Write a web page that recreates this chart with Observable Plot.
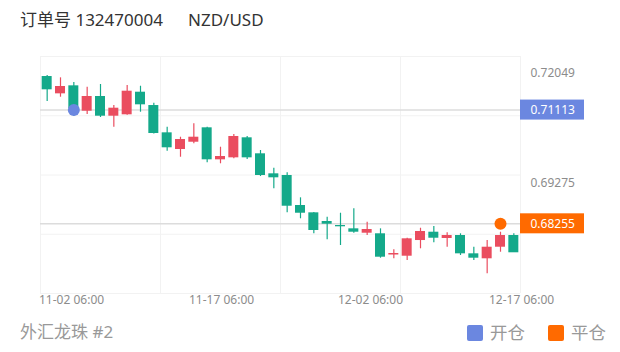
<!DOCTYPE html>
<html>
<head>
<meta charset="utf-8">
<script src="https://cdn.jsdelivr.net/npm/d3@7"></script>
<script src="https://cdn.jsdelivr.net/npm/@observablehq/plot@0.6"></script>
<style>
  html, body { margin: 0; padding: 0; background: #fff; }
  body { width: 620px; height: 352px; position: relative; overflow: hidden; font-family: "Noto Sans", "Noto Sans CJK SC", sans-serif; }
  .abs { position: absolute; white-space: nowrap; line-height: 1.2; }
  #chart { position: absolute; left: 0; top: 40px; }
  .sq { position: absolute; width: 16px; height: 16px; border-radius: 2px; }
</style>
</head>
<body>
<div class="abs" style="left:20px; top:10px; font-size:17px; color:#333;">订单号 132470004</div>
<div class="abs" style="left:188px; top:10px; font-size:17px; color:#333;">NZD/USD</div>
<div id="chart"></div>
<div class="abs" style="left:20px; top:322px; font-size:17px; color:#999;">外汇龙珠 #2</div>
<div class="sq" style="left:467px; top:325px; background:#6b87e0;"></div>
<div class="abs" style="left:490px; top:322px; font-size:17.5px; color:#999;">开仓</div>
<div class="sq" style="left:548px; top:325px; background:#ff6a00;"></div>
<div class="abs" style="left:571px; top:322px; font-size:17.5px; color:#999;">平仓</div>
<script>
const idx = d3.range(1, 37);
const open = [0.71956,0.71521,0.71722,0.71084,0.71454,0.70959,0.70994,0.71562,0.71227,0.70541,0.70122,0.70305,0.70667,0.69863,0.69913,0.70416,0.70014,0.69511,0.69469,0.68715,0.68531,0.68313,0.68212,0.68129,0.68019,0.68004,0.67471,0.67441,0.67835,0.68044,0.67886,0.67961,0.67501,0.67376,0.67667,0.67961];
const close = [0.71622,0.71705,0.71152,0.71454,0.70959,0.71160,0.71587,0.71245,0.70524,0.70165,0.70373,0.70431,0.69863,0.69946,0.70449,0.69913,0.69469,0.69411,0.68697,0.68521,0.68087,0.68245,0.68180,0.68044,0.68112,0.67416,0.67509,0.67878,0.68062,0.67893,0.67961,0.67501,0.67391,0.67667,0.67961,0.67527];
const high = [0.71981,0.71923,0.71805,0.71687,0.71755,0.71227,0.71730,0.71712,0.71285,0.70682,0.70431,0.70768,0.70680,0.70180,0.70499,0.70449,0.70097,0.69652,0.69536,0.68908,0.68540,0.68421,0.68521,0.68632,0.68295,0.68129,0.67602,0.67890,0.68144,0.68187,0.68029,0.68004,0.67667,0.67835,0.68044,0.68004];
const low = [0.71328,0.71436,0.70951,0.71001,0.70926,0.70682,0.70980,0.71059,0.70511,0.70079,0.69928,0.70265,0.69788,0.69763,0.69888,0.69871,0.69443,0.69134,0.68531,0.68381,0.68004,0.67853,0.67710,0.68019,0.67961,0.67391,0.67376,0.67333,0.67627,0.67778,0.67667,0.67459,0.67333,0.66999,0.67541,0.67667];

const yTickValues = [0.72049, 0.69275];
const xTickLabels = ["11-02 06:00", "11-17 06:00", "12-02 06:00", "12-17 06:00"];
const xTickPos = [2.83, 14.08, 25.25, 36.58];
const markerIdx = [3, 35];
const markerPrice = [0.71113, 0.68255];
const markerName = ["开仓", "平仓"];
const markerColor = ["#6b87e0", "#ff6a00"];

const UP = "#ea4d5f", DOWN = "#14a98a";
const candles = idx.map((i, k) => ({i, open: open[k], close: close[k], high: high[k], low: low[k]}));
const markers = markerIdx.map((i, k) => ({i, price: markerPrice[k], name: markerName[k], color: markerColor[k]}));
const xDomain = [0.5, 36.5];
const yDomain = [0.66504, 0.72459];
const yGrid = d3.range(5).map(k => yDomain[0] + k * (yDomain[1] - yDomain[0]) / 4);
const xGrid = d3.range(5).map(k => xDomain[0] + k * (xDomain[1] - xDomain[0]) / 4);
const fmt = d => d.toFixed(5);
const col = d => d.close >= d.open ? UP : DOWN;

const chart = Plot.plot({
  width: 620,
  height: 272,
  marginLeft: 40,
  marginRight: 100,
  marginTop: 16,
  marginBottom: 19,
  style: {fontFamily: "'Noto Sans', 'Noto Sans CJK SC', sans-serif", background: "transparent"},
  x: {domain: xDomain, axis: null},
  y: {domain: yDomain, axis: null},
  marks: [
    Plot.ruleY(yGrid, {stroke: "#f2f2f2", strokeWidth: 1}),
    Plot.ruleX(xGrid, {stroke: "#f2f2f2", strokeWidth: 1}),
    Plot.ruleY(markers, {y: "price", stroke: "#dcdcdc", strokeWidth: 1.5}),
    Plot.ruleX(candles, {x: "i", y1: "low", y2: "high", stroke: col, strokeWidth: 1.2}),
    Plot.rect(candles, {x1: d => d.i - 0.375, x2: d => d.i + 0.375, y1: "open", y2: "close", fill: col}),
    Plot.dot(markers, {x: "i", y: "price", r: 6, fill: "color", stroke: null}),
    Plot.text(yTickValues, {y: d => d, text: fmt, frameAnchor: "right", dx: 10, textAnchor: "start", fill: "#8c8c8c", fontSize: 12}),
    Plot.rect(markers, {x1: xDomain[1], x2: xDomain[1], y1: "price", y2: "price", insetRight: -64, insetTop: -10, insetBottom: -10, fill: "color"}),
    Plot.text(markers, {y: "price", text: d => fmt(d.price), frameAnchor: "right", dx: 10, textAnchor: "start", fill: "white", fontSize: 12}),
    Plot.text(xTickLabels, {x: (d, k) => xTickPos[k], text: d => d, frameAnchor: "bottom", dy: 10, fill: "#8c8c8c", fontSize: 12, clip: false})
  ]
});
document.getElementById("chart").appendChild(chart);
</script>
</body>
</html>
